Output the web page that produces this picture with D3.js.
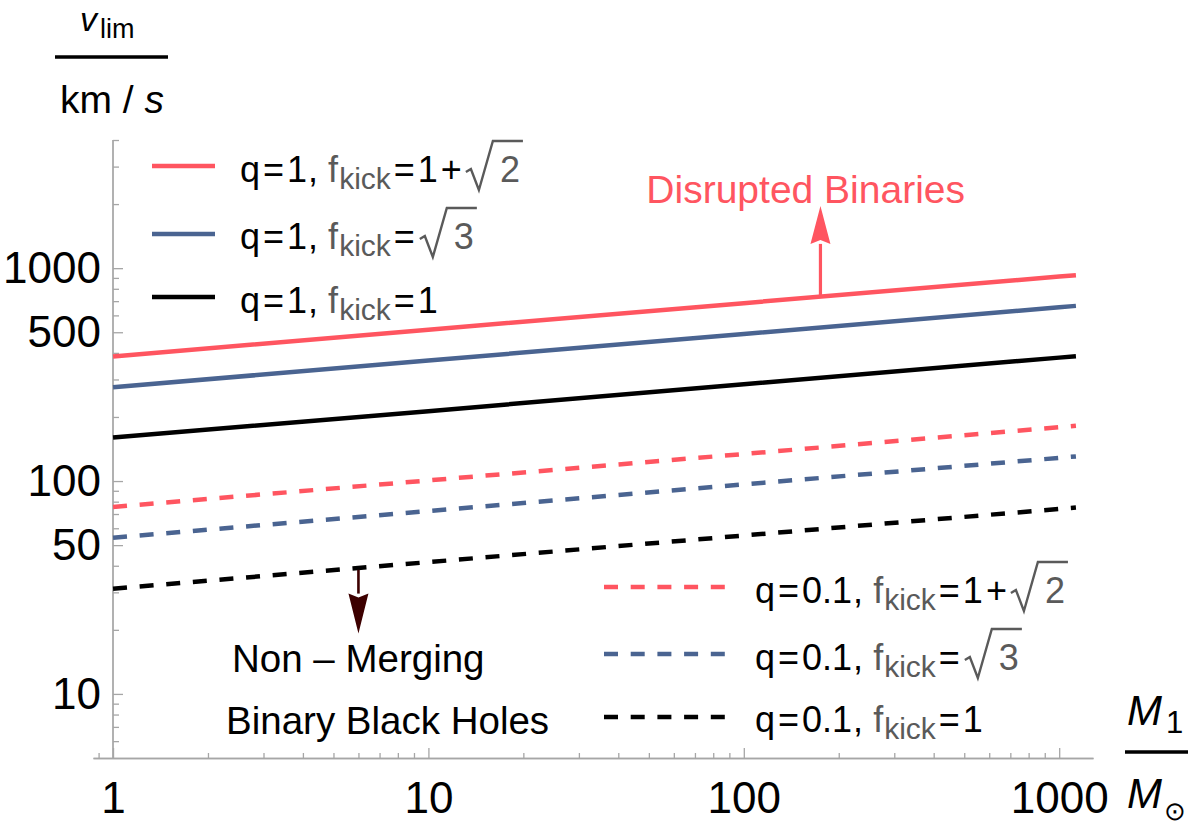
<!DOCTYPE html>
<html><head><meta charset="utf-8">
<script src="https://cdn.jsdelivr.net/npm/d3@7"></script>
<style>
body{margin:0;background:#fff}
svg{display:block}
text{font-family:"Liberation Sans",Arial,Helvetica,sans-serif}
</style>
</head><body>
<svg id="chart" width="1200" height="830"></svg>
<script>
// ---------------- data ----------------
const masses = [1, 10, 100, 1000, 1130];               // M1 / Msun
const vQ1Fk1p2   = [385, 514, 685, 913, 927];          // q=1,   f_kick = 1+sqrt2
const vQ1Fks3    = [276, 368, 491, 655, 665];          // q=1,   f_kick = sqrt3
const vQ1Fk1     = [160, 213, 285, 380, 386];          // q=1,   f_kick = 1
const vQ01Fk1p2  = [75.5, 100.7, 134, 179, 182];       // q=0.1, f_kick = 1+sqrt2
const vQ01Fks3   = [54.2, 72.3, 96.4, 128.5, 130.5];   // q=0.1, f_kick = sqrt3
const vQ01Fk1    = [31.2, 41.6, 55.5, 74, 75.1];       // q=0.1, f_kick = 1
const seriesValues = [vQ1Fk1p2, vQ1Fks3, vQ1Fk1, vQ01Fk1p2, vQ01Fks3, vQ01Fk1];
const seriesQ      = ["1", "1", "1", "0.1", "0.1", "0.1"];
const seriesFkick  = ["1+√2", "√3", "1", "1+√2", "√3", "1"];
const xTickLabels  = [1, 10, 100, 1000];
const xMinorTicks  = [0.9, 2,3,4,5,6,7,8,9, 20,30,40,50,60,70,80,90, 200,300,400,500,600,700,800,900];
const yTickLabels  = [10, 50, 100, 500, 1000];
const yMinorTicks  = [6,7,8,9, 20,30,40,60,70,80,90, 200,300,400,600,700,800,900, 2000,3000,4000];
const upArrow   = [175, 734, 1300, 1960];   // x, start v, head base v, tip v
const downArrow = [6, 38.3, 29.6, 19.2];
const upText    = "Disrupted Binaries";
const downText  = ["Non – Merging", "Binary Black Holes"];

// ---------------- style ----------------
const RED = "#ff5560", BLUE = "#4a6491", BLACK = "#000000", MAROON = "#3d0000";
const GRAY = "#5a5a5a", AXIS = "#a6a6a6";
const colors = [RED, BLUE, BLACK, RED, BLUE, BLACK];
const dashed = [false, false, false, true, true, true];

const svg = d3.select("#chart");
const x = d3.scaleLog().domain([0.864, 1280]).range([93, 1093]);
const y = d3.scaleLog().domain([5, 4000]).range([758, 140]);

// ---------------- axes ----------------
function styleAxis(g){
  g.select(".domain").attr("stroke", AXIS).attr("stroke-width", 1.3);
  g.selectAll(".tick line").attr("stroke", AXIS).attr("stroke-width", 1.3);
  g.selectAll(".tick text").attr("fill", "#000").attr("font-size", 44)
    .attr("font-family", '"Liberation Sans",Arial,sans-serif');
}
const gx = svg.append("g").attr("transform", "translate(0,758)");
gx.append("g").call(d3.axisBottom(x).tickValues(xMinorTicks).tickSizeInner(-5).tickSizeOuter(0).tickFormat(""))
  .call(styleAxis);
gx.append("g").call(d3.axisBottom(x).tickValues(xTickLabels).tickSizeInner(-10).tickSizeOuter(0)
  .tickPadding(24).tickFormat(d3.format("d"))).call(styleAxis);

const gy = svg.append("g").attr("transform", "translate(113,0)");
gy.append("g").call(d3.axisLeft(y).tickValues(yMinorTicks).tickSizeInner(-6).tickSizeOuter(0).tickFormat(""))
  .call(styleAxis);
gy.append("g").call(d3.axisLeft(y).tickValues(yTickLabels).tickSizeInner(-10).tickSizeOuter(0)
  .tickPadding(12).tickFormat(d3.format("d"))).call(styleAxis);
gy.selectAll(".domain").attr("d", `M0,${y(4000)}V${y(5)}`);

// ---------------- series lines ----------------
const line = d3.line().x(d => x(d[0])).y(d => y(d[1]));
seriesValues.forEach((vals, i) => {
  svg.append("path")
    .datum(masses.map((m, j) => [m, vals[j]]))
    .attr("d", line).attr("fill", "none")
    .attr("stroke", colors[i]).attr("stroke-width", 4.5)
    .attr("stroke-dasharray", dashed[i] ? "14,12.7" : null);
});

// ---------------- arrows ----------------
function arrow(a, color, w){
  const ax = x(a[0]);
  svg.append("line").attr("x1", ax).attr("x2", ax).attr("y1", y(a[1])).attr("y2", y(a[2]))
    .attr("stroke", color).attr("stroke-width", w);
  const yb = y(a[2]), yt = y(a[3]), dir = yt < yb ? -1 : 1;
  svg.append("path").attr("fill", color)
    .attr("d", `M${ax},${yt}L${ax-10},${yb}L${ax},${yb+dir*4}L${ax+10},${yb}Z`);
}
arrow(upArrow, RED, 3.2);
arrow(downArrow, MAROON, 2.6);

svg.append("text").attr("x", 965).attr("y", 203).attr("text-anchor", "end")
  .attr("fill", RED).attr("font-size", 39).text(upText);
svg.append("text").attr("x", 232).attr("y", 672).attr("font-size", 38.5).attr("fill", "#000").text(downText[0]);
svg.append("text").attr("x", 226).attr("y", 734).attr("font-size", 38.5).attr("fill", "#000").text(downText[1]);

// ---------------- legend ----------------
const FS = 36, SFS = 30;
function labelPieces(q, fk){
  const p = [
    {t:"q"}, {t:"=", gap:3}, {t:q, gap:3}, {t:",", gap:1},
    {t:"f", gap:10, c:GRAY}, {t:"kick", sub:true, gap:1, c:GRAY}, {t:"=", gap:3}
  ];
  if (fk === "1+√2") p.push({t:"1", gap:3}, {t:"+", gap:3}, {rad:"2", gap:4});
  else if (fk === "√3") p.push({rad:"3", gap:5});
  else p.push({t:"1", gap:3});
  return p;
}
function drawLabel(x0, base, q, fk){
  const g = svg.append("g");
  let cx = x0;
  labelPieces(q, fk).forEach(p => {
    cx += p.gap || 0;
    if (p.rad){
      const top = base - 41;
      const t = g.append("text").attr("x", cx + 34).attr("y", base).attr("font-size", FS)
        .attr("fill", GRAY).text(p.rad);
      const w = t.node().getComputedTextLength();
      g.append("path").attr("fill", "none").attr("stroke", GRAY).attr("stroke-width", 2.4)
        .attr("stroke-linejoin", "miter")
        .attr("d", `M${cx},${base-10}L${cx+5},${base-13}L${cx+13},${base+8}L${cx+27},${top}H${cx+34+w+3}`);
      cx += 34 + w + 3;
    } else {
      const t = g.append("text").attr("x", cx).attr("y", base + (p.sub ? 7 : 0))
        .attr("font-size", p.sub ? SFS : FS).attr("fill", p.c || "#000").text(p.t);
      cx += t.node().getComputedTextLength();
    }
  });
}
const legendTL = {lx0:152, lx1:215, tx:240, ly:[166, 234, 297], base:[182, 249, 313]};
const legendBR = {lx0:604, lx1:725, tx:755, ly:[587, 654, 717], base:[603, 670, 732]};
seriesValues.forEach((v, i) => {
  const L = i < 3 ? legendTL : legendBR, k = i % 3;
  svg.append("line").attr("x1", L.lx0).attr("x2", L.lx1).attr("y1", L.ly[k]).attr("y2", L.ly[k])
    .attr("stroke", colors[i]).attr("stroke-width", 4.5)
    .attr("stroke-dasharray", dashed[i] ? "14,12.7" : null);
  drawLabel(L.tx, L.base[k], seriesQ[i], seriesFkick[i]);
});

// ---------------- axis titles ----------------
const yl = svg.append("g");
yl.append("text").attr("x", 80).attr("y", 31).attr("font-size", 34).attr("font-style", "italic").text("v");
yl.append("text").attr("x", 100).attr("y", 38).attr("font-size", 27).text("lim");
yl.append("line").attr("x1", 55).attr("x2", 168).attr("y1", 57).attr("y2", 57).attr("stroke", "#000").attr("stroke-width", 3.5);
yl.append("text").attr("x", 112).attr("y", 113).attr("text-anchor", "middle").attr("font-size", 39)
  .html('km / <tspan font-style="italic">s</tspan>');

const xl = svg.append("g");
xl.append("text").attr("x", 1127).attr("y", 725).attr("font-size", 42).attr("font-style", "italic").text("M");
xl.append("text").attr("x", 1166).attr("y", 733).attr("font-size", 31).text("1");
xl.append("line").attr("x1", 1125).attr("x2", 1188).attr("y1", 752).attr("y2", 752).attr("stroke", "#000").attr("stroke-width", 3.5);
xl.append("text").attr("x", 1127).attr("y", 808).attr("font-size", 42).attr("font-style", "italic").text("M");
xl.append("text").attr("x", 1164).attr("y", 820).attr("font-size", 26)
  .attr("font-family", '"DejaVu Sans",sans-serif').text("⊙");
</script>
</body></html>
